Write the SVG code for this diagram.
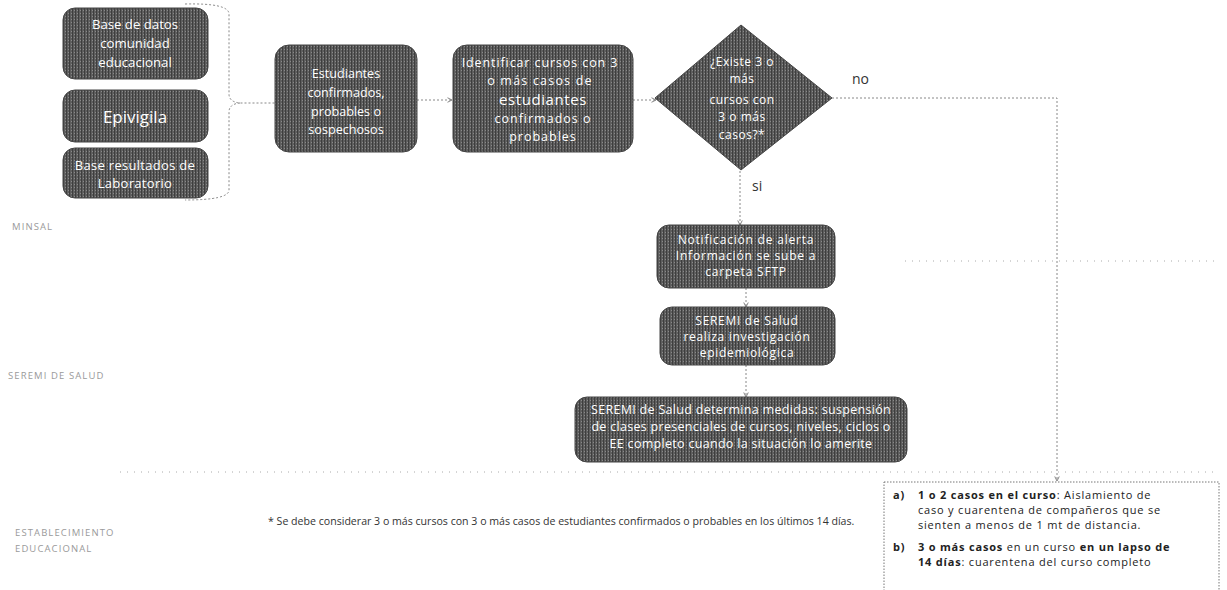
<svg xmlns="http://www.w3.org/2000/svg" width="1227" height="590" viewBox="0 0 1227 590">
<defs>
<marker id="arr" viewBox="0 0 8 8" refX="7" refY="4" markerWidth="6" markerHeight="6" orient="auto">
<path d="M1,1 L7,4 L1,7" fill="none" stroke="#777" stroke-width="1.2"/>
</marker>
<pattern id="tex" width="3" height="3" patternUnits="userSpaceOnUse">
<rect width="3" height="3" fill="#5e5e5e"/>
<rect x="0" y="0" width="1" height="3" fill="#3e3e3e"/>
<rect x="2" y="1" width="1" height="1" fill="#8a8a8a"/>
</pattern>
</defs>
<style>
.box{fill:url(#tex);stroke:#444;stroke-width:1}
.bt{font-family:"Open Sans","Liberation Sans",sans-serif;font-size:12px;fill:#fff;text-anchor:middle}
.con{fill:none;stroke:#888;stroke-width:1;stroke-dasharray:2 2}
.lane{font-family:"Open Sans","Liberation Sans",sans-serif;font-size:9.5px;fill:#9a9a9a;letter-spacing:1.1px}
.sep{stroke:#aaa;stroke-width:1;stroke-dasharray:1 6}
.lbl{font-family:"Open Sans","Liberation Sans",sans-serif;font-size:14px;fill:#333}
.nt{font-family:"Open Sans","Liberation Sans",sans-serif;font-size:11px;fill:#222;letter-spacing:0.8px}
.b{font-weight:bold}
</style>
<rect width="1227" height="590" fill="#fff"/>
<g id="lanes">
<text class="lane" x="12" y="230">MINSAL</text>
<text class="lane" x="8" y="379">SEREMI DE SALUD</text>
<text class="lane" x="15" y="536">ESTABLECIMIENTO</text>
<text class="lane" x="15" y="552">EDUCACIONAL</text>
<line class="sep" x1="905" y1="261" x2="1215" y2="261"/>
<line class="sep" x1="120" y1="472" x2="1215" y2="472"/>
</g>
<g id="connectors">
<path class="con" d="M185,4 Q229,3 229,14 L229,94 Q229,102 240,103 L275,103 M240,103 Q229,104 229,112 L229,190 Q229,200 185,200"/>
<line class="con" x1="417" y1="100" x2="452" y2="100" marker-end="url(#arr)"/>
<line class="con" x1="633" y1="100" x2="656" y2="100" marker-end="url(#arr)"/>
<path class="con" d="M832,98 L1057,98 L1057,481" marker-end="url(#arr)"/>
<line class="con" x1="740" y1="171" x2="740" y2="225" marker-end="url(#arr)"/>
<line class="con" x1="746" y1="288" x2="746" y2="307" marker-end="url(#arr)"/>
<line class="con" x1="746" y1="365" x2="746" y2="397" marker-end="url(#arr)"/>
<text class="lbl" x="852" y="84">no</text>
<text class="lbl" x="752" y="191">si</text>
</g>
<g id="n-basedatos">
<rect class="box" x="63" y="8" width="145" height="71" rx="12"/>
<text class="bt" x="135" y="29" style="font-size:13.2px">Base de datos</text>
<text class="bt" x="135" y="48" style="font-size:13.2px">comunidad</text>
<text class="bt" x="135" y="67" style="font-size:13.2px">educacional</text>
</g>
<g id="n-epivigila">
<rect class="box" x="63" y="90" width="145" height="52" rx="12"/>
<text class="bt" x="135" y="123" style="font-size:17px">Epivigila</text>
</g>
<g id="n-laboratorio">
<rect class="box" x="63" y="148" width="145" height="50" rx="12"/>
<text class="bt" x="135" y="170" style="font-size:13px;letter-spacing:0.3px">Base resultados de</text>
<text class="bt" x="135" y="188" style="font-size:13px;letter-spacing:0.3px">Laboratorio</text>
</g>
<g id="n-estudiantes">
<rect class="box" x="275" y="45" width="142" height="107" rx="14"/>
<text class="bt" x="346" y="78" style="font-size:12.6px">Estudiantes</text>
<text class="bt" x="346" y="97" style="font-size:12.6px">confirmados,</text>
<text class="bt" x="346" y="116" style="font-size:12.6px">probables o</text>
<text class="bt" x="346" y="134" style="font-size:12.6px">sospechosos</text>
</g>
<g id="n-identificar">
<rect class="box" x="453" y="45" width="180" height="107" rx="14"/>
<text class="bt" x="540" y="67" style="font-size:12.5px;letter-spacing:0.9px">Identificar cursos con 3</text>
<text class="bt" x="540" y="85" style="font-size:12.5px;letter-spacing:1.2px">o más casos de</text>
<text class="bt" x="543" y="105" style="font-size:15px;letter-spacing:0.6px">estudiantes</text>
<text class="bt" x="543" y="123" style="font-size:12.5px;letter-spacing:1px">confirmados o</text>
<text class="bt" x="543" y="141" style="font-size:12.5px;letter-spacing:1px">probables</text>
</g>
<g id="n-decision">
<polygon class="box" points="741,25 832,98 741,170 655,98"/>
<text class="bt" x="742" y="66" style="letter-spacing:0.5px">¿Existe 3 o</text>
<text class="bt" x="742" y="83" style="letter-spacing:0.5px">más</text>
<text class="bt" x="742" y="104" style="letter-spacing:0.5px">cursos con</text>
<text class="bt" x="742" y="121" style="letter-spacing:0.5px">3 o más</text>
<text class="bt" x="742" y="139" style="letter-spacing:0.5px">casos?*</text>
</g>
<g id="n-notificacion">
<rect class="box" x="657" y="225" width="178" height="63" rx="12"/>
<text class="bt" x="746" y="244" style="letter-spacing:0.8px">Notificación de alerta</text>
<text class="bt" x="746" y="260" style="letter-spacing:0.8px">Información se sube a</text>
<text class="bt" x="746" y="276" style="letter-spacing:0.8px">carpeta SFTP</text>
</g>
<g id="n-investigacion">
<rect class="box" x="660" y="307" width="175" height="58" rx="12"/>
<text class="bt" x="747" y="325" style="letter-spacing:0.7px">SEREMI de Salud</text>
<text class="bt" x="747" y="341" style="letter-spacing:0.7px">realiza investigación</text>
<text class="bt" x="747" y="357" style="letter-spacing:0.7px">epidemiológica</text>
</g>
<g id="n-medidas">
<rect class="box" x="575" y="397" width="332" height="65" rx="12"/>
<text class="bt" x="741" y="414" style="font-size:12.5px;letter-spacing:0.3px">SEREMI de Salud determina medidas: suspensión</text>
<text class="bt" x="741" y="431" style="font-size:12.5px;letter-spacing:0.3px">de clases presenciales de cursos, niveles, ciclos o</text>
<text class="bt" x="741" y="448" style="font-size:12.5px;letter-spacing:0.3px">EE completo cuando la situación lo amerite</text>
</g>
<g id="n-acciones">
<rect x="884" y="482" width="335" height="120" fill="#fff" stroke="#777" stroke-width="1" stroke-dasharray="1.5 1.5"/>
<text class="nt b" x="893" y="499">a)</text>
<text class="nt" x="918" y="499"><tspan class="b">1 o 2 casos en el curso</tspan>: Aislamiento de</text>
<text class="nt" x="918" y="514">caso y cuarentena de compañeros que se</text>
<text class="nt" x="918" y="529">sienten a menos de 1 mt de distancia.</text>
<text class="nt b" x="893" y="551">b)</text>
<text class="nt" x="918" y="551"><tspan class="b">3 o más casos</tspan> en un curso <tspan class="b">en un lapso de</tspan></text>
<text class="nt" x="918" y="566"><tspan class="b">14 días</tspan>: cuarentena del curso completo</text>
</g>
<g id="footnote">
<text x="268" y="525" style="font-family:'Open Sans','Liberation Sans',sans-serif;font-size:10.6px;fill:#333">* Se debe considerar 3 o más cursos con 3 o más casos de estudiantes confirmados o probables en los últimos 14 días.</text>
</g>
</svg>
